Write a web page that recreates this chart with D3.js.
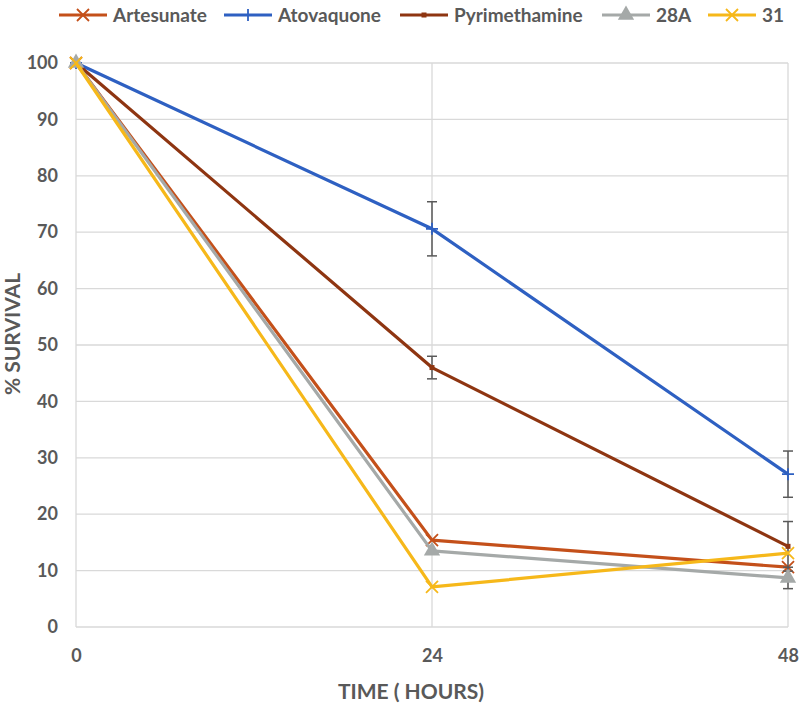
<!DOCTYPE html>
<html>
<head>
<meta charset="utf-8">
<script src="https://cdn.jsdelivr.net/npm/d3@7"></script>
<style>
  body { margin: 0; background: #fff; }
  text { font-family: Lato, "Open Sans", sans-serif; font-weight: bold; fill: #595959; }
</style>
</head>
<body>
<div id="chart"></div>
<script>
// time points (hours)
const hours = [0, 24, 48];
const yTicks = [0, 10, 20, 30, 40, 50, 60, 70, 80, 90, 100];

// % survival per compound
const artesunate = [100, 15.4, 10.6];
const atovaquone = [100, 70.6, 27.1];
const pyrimethamine = [100, 46.0, 14.3];
const c28A = [100, 13.5, 8.7];
const c31 = [100, 7.1, 13.1];

// error bars (+/-), null = none drawn
const atovaquoneErr = [null, 4.8, 4.1];
const pyrimethamineErr = [null, 2.0, 4.4];
const c28AErr = [null, null, 1.9];

const series = [
  { name: 'Artesunate', values: artesunate, color: '#C4501A', marker: 'x' },
  { name: 'Atovaquone', values: atovaquone, color: '#2E60C2', marker: 'plus', err: atovaquoneErr },
  { name: 'Pyrimethamine', values: pyrimethamine, color: '#8E3511', marker: 'square', err: pyrimethamineErr },
  { name: '28A', values: c28A, color: '#A5A9A8', marker: 'triangle', err: c28AErr },
  { name: '31', values: c31, color: '#F6B81A', marker: 'x' }
];

const width = 801, height = 703;
const margin = { top: 63, right: 13, bottom: 76, left: 76 };
const innerW = width - margin.left - margin.right;
const innerH = height - margin.top - margin.bottom;

const svg = d3.select('#chart').append('svg')
  .attr('width', width)
  .attr('height', height);

const g = svg.append('g')
  .attr('transform', 'translate(' + margin.left + ',' + margin.top + ')');

const x = d3.scaleLinear().domain([0, 48]).range([0, innerW]);
const y = d3.scaleLinear().domain([0, 100]).range([innerH, 0]);

// gridlines
g.append('g').selectAll('line.h')
  .data(yTicks)
  .enter().append('line')
  .attr('x1', 0).attr('x2', innerW)
  .attr('y1', d => y(d)).attr('y2', d => y(d))
  .attr('stroke', '#D9D9D9').attr('stroke-width', 1.3);

g.append('g').selectAll('line.v')
  .data(hours)
  .enter().append('line')
  .attr('x1', d => x(d)).attr('x2', d => x(d))
  .attr('y1', 0).attr('y2', innerH)
  .attr('stroke', '#D9D9D9').attr('stroke-width', 1.3);

// axes (labels only)
const yAxis = g.append('g')
  .call(d3.axisLeft(y).tickValues(yTicks).tickSize(0).tickPadding(18));
yAxis.select('.domain').remove();
yAxis.selectAll('text').style('font-size', '18px');

const xAxis = g.append('g')
  .attr('transform', 'translate(0,' + innerH + ')')
  .call(d3.axisBottom(x).tickValues(hours).tickSize(0).tickPadding(22));
xAxis.select('.domain').remove();
xAxis.selectAll('text').style('font-size', '18px');

// axis titles
svg.append('text')
  .attr('x', margin.left + innerW / 2 - 21)
  .attr('y', 699)
  .attr('text-anchor', 'middle')
  .style('font-size', '21px')
  .text('TIME ( HOURS)');

svg.append('text')
  .attr('transform', 'translate(20,' + 334 + ') rotate(-90)')
  .attr('text-anchor', 'middle')
  .style('font-size', '21px')
  .text('% SURVIVAL');

function drawMarker(sel, type, color, size) {
  const s = size;
  if (type === 'x') {
    sel.append('path')
      .attr('d', 'M' + (-s) + ',' + (-s) + 'L' + s + ',' + s + 'M' + (-s) + ',' + s + 'L' + s + ',' + (-s))
      .attr('stroke', color).attr('stroke-width', 1.8).attr('fill', 'none');
  } else if (type === 'plus') {
    sel.append('path')
      .attr('d', 'M' + (-s) + ',0L' + s + ',0M0,' + (-s) + 'L0,' + s)
      .attr('stroke', color).attr('stroke-width', 1.8).attr('fill', 'none');
  } else if (type === 'square') {
    sel.append('rect')
      .attr('x', -2.5).attr('y', -2.5).attr('width', 5).attr('height', 5)
      .attr('fill', color);
  } else if (type === 'triangle') {
    sel.append('path')
      .attr('d', d3.symbol().type(d3.symbolTriangle).size(size * size * 3.2)())
      .attr('fill', color);
  }
}

const line = d3.line()
  .x((d, i) => x(hours[i]))
  .y(d => y(d));

// series
series.forEach(s => {
  const sg = g.append('g');
  sg.append('path')
    .datum(s.values)
    .attr('d', line)
    .attr('fill', 'none')
    .attr('stroke', s.color)
    .attr('stroke-width', 3.2)
    .attr('stroke-linejoin', 'round');

  if (s.err) {
    s.err.forEach((e, i) => {
      if (e == null) return;
      const cx = x(hours[i]);
      const top = y(s.values[i] + e), bot = y(s.values[i] - e);
      sg.append('line')
        .attr('x1', cx).attr('x2', cx).attr('y1', top).attr('y2', bot)
        .attr('stroke', '#595959').attr('stroke-width', 1.5);
      [top, bot].forEach(yy => {
        sg.append('line')
          .attr('x1', cx - 5).attr('x2', cx + 5).attr('y1', yy).attr('y2', yy)
          .attr('stroke', '#595959').attr('stroke-width', 1.5);
      });
    });
  }

  s.values.forEach((v, i) => {
    const m = sg.append('g').attr('transform', 'translate(' + x(hours[i]) + ',' + y(v) + ')');
    drawMarker(m, s.marker, s.color, 6);
  });
});

// legend
const legendX = [59, 224, 400, 602, 708];
const legend = svg.append('g');
series.forEach((s, i) => {
  const lg = legend.append('g').attr('transform', 'translate(' + legendX[i] + ',15)');
  lg.append('line')
    .attr('x1', 0).attr('x2', 48).attr('y1', 0).attr('y2', 0)
    .attr('stroke', s.color).attr('stroke-width', 3.2);
  const m = lg.append('g').attr('transform', 'translate(24,0)');
  drawMarker(m, s.marker, s.color, 6);
  lg.append('text')
    .attr('x', 54).attr('y', 0).attr('dy', '0.36em')
    .style('font-size', '19px')
    .text(s.name);
});
</script>
</body>
</html>
